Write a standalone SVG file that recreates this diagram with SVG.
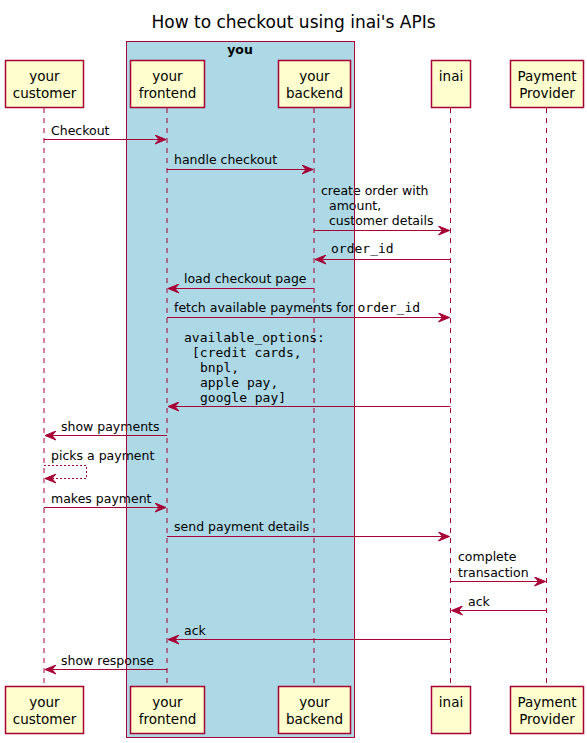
<svg xmlns="http://www.w3.org/2000/svg" width="587" height="743" viewBox="0 0 587 743">
<defs>
<style>
.title{font-family:"DejaVu Sans","Liberation Sans",sans-serif;font-size:17px;fill:#000}
.pbox{fill:#FEFECE;stroke:#A80036;stroke-width:1.5}
.ptxt{font-family:"DejaVu Sans","Liberation Sans",sans-serif;font-size:13.5px;fill:#000;text-anchor:middle}
.life{stroke:#A80036;stroke-width:1;stroke-dasharray:5,5;fill:none}
.msg{stroke:#A80036;stroke-width:1;fill:none}
.dot{stroke:#A80036;stroke-width:1;stroke-dasharray:2,2;fill:none}
.mtxt{font-family:"DejaVu Sans","Liberation Sans",sans-serif;font-size:12.5px;fill:#000}
.mono{font-family:"DejaVu Sans Mono","Liberation Mono",monospace;font-size:13px}
.boxlbl{font-family:"DejaVu Sans","Liberation Sans",sans-serif;font-size:12.5px;font-weight:bold;text-anchor:middle}
</style>
<marker id="ah" viewBox="0 0 12 10" refX="11.5" refY="5" markerWidth="12" markerHeight="10" markerUnits="userSpaceOnUse" orient="auto">
<path d="M0.5,0.5 L11.5,5 L0.5,9.5 L4.5,5 Z" fill="#A80036" stroke="#A80036" stroke-width="1"/>
</marker>
</defs>
<rect width="587" height="743" fill="#FFFFFF"/>
<text class="title" x="293.5" y="28" text-anchor="middle">How to checkout using inai's APIs</text>
<g id="box-you-fill">
<rect x="126.5" y="41.5" width="228" height="696" fill="#ADD8E6"/>
<text class="boxlbl" x="240" y="54">you</text>
</g>
<g id="your-customer">
<line class="life" x1="44" y1="108" x2="44" y2="686"/>
<rect class="pbox" x="5.5" y="60.5" width="78" height="47"/>
<text class="ptxt" x="44.5" y="81">your</text>
<text class="ptxt" x="44.5" y="98">customer</text>
<rect class="pbox" x="5.5" y="686.5" width="78" height="47"/>
<text class="ptxt" x="44.5" y="707">your</text>
<text class="ptxt" x="44.5" y="724">customer</text>
</g>
<g id="your-frontend">
<line class="life" x1="167" y1="108" x2="167" y2="686"/>
<rect class="pbox" x="130.5" y="60.5" width="74" height="47"/>
<text class="ptxt" x="167.5" y="81">your</text>
<text class="ptxt" x="167.5" y="98">frontend</text>
<rect class="pbox" x="130.5" y="686.5" width="74" height="47"/>
<text class="ptxt" x="167.5" y="707">your</text>
<text class="ptxt" x="167.5" y="724">frontend</text>
</g>
<g id="your-backend">
<line class="life" x1="314" y1="108" x2="314" y2="686"/>
<rect class="pbox" x="278.5" y="60.5" width="72" height="47"/>
<text class="ptxt" x="314.5" y="81">your</text>
<text class="ptxt" x="314.5" y="98">backend</text>
<rect class="pbox" x="278.5" y="686.5" width="72" height="47"/>
<text class="ptxt" x="314.5" y="707">your</text>
<text class="ptxt" x="314.5" y="724">backend</text>
</g>
<g id="inai">
<line class="life" x1="450.5" y1="108" x2="450.5" y2="686"/>
<rect class="pbox" x="431.5" y="60.5" width="39" height="47"/>
<text class="ptxt" x="451" y="81">inai</text>
<rect class="pbox" x="431.5" y="686.5" width="39" height="47"/>
<text class="ptxt" x="451" y="707">inai</text>
</g>
<g id="payment-provider">
<line class="life" x1="546.5" y1="108" x2="546.5" y2="686"/>
<rect class="pbox" x="510.5" y="60.5" width="73" height="47"/>
<text class="ptxt" x="547" y="81">Payment</text>
<text class="ptxt" x="547" y="98">Provider</text>
<rect class="pbox" x="510.5" y="686.5" width="73" height="47"/>
<text class="ptxt" x="547" y="707">Payment</text>
<text class="ptxt" x="547" y="724">Provider</text>
</g>
<g id="connectors">
<line class="msg" x1="44" y1="139.5" x2="166" y2="139.5" marker-end="url(#ah)"/>
<text class="mtxt" x="51" y="135">Checkout</text>
<line class="msg" x1="167" y1="169.5" x2="313" y2="169.5" marker-end="url(#ah)"/>
<text class="mtxt" x="174" y="164">handle checkout</text>
<line class="msg" x1="314" y1="230.5" x2="449.5" y2="230.5" marker-end="url(#ah)"/>
<text class="mtxt" x="321" y="195">create order with</text>
<text class="mtxt" x="329" y="210">amount,</text>
<text class="mtxt" x="329" y="225">customer details</text>
<line class="msg" x1="450.5" y1="259.5" x2="315" y2="259.5" marker-end="url(#ah)"/>
<text class="mtxt mono" x="331" y="253">order_id</text>
<line class="msg" x1="314" y1="288.5" x2="168" y2="288.5" marker-end="url(#ah)"/>
<text class="mtxt" x="184" y="283">load checkout page</text>
<line class="msg" x1="167" y1="317.5" x2="449.5" y2="317.5" marker-end="url(#ah)"/>
<text class="mtxt" x="174" y="312">fetch available payments for <tspan class="mono">order_id</tspan></text>
<line class="msg" x1="450.5" y1="406.5" x2="168" y2="406.5" marker-end="url(#ah)"/>
<text class="mtxt mono" x="184" y="342">available_options:</text>
<text class="mtxt mono" x="192" y="357">[credit cards,</text>
<text class="mtxt mono" x="200" y="372">bnpl,</text>
<text class="mtxt mono" x="200" y="387">apple pay,</text>
<text class="mtxt mono" x="200" y="402">google pay]</text>
<line class="msg" x1="167" y1="435.5" x2="45" y2="435.5" marker-end="url(#ah)"/>
<text class="mtxt" x="61" y="431">show payments</text>
<polyline class="dot" points="44,465.5 86.5,465.5 86.5,478.5 45,478.5" marker-end="url(#ah)"/>
<text class="mtxt" x="51" y="460">picks a payment</text>
<line class="msg" x1="44" y1="507.5" x2="166" y2="507.5" marker-end="url(#ah)"/>
<text class="mtxt" x="51" y="503">makes payment</text>
<line class="msg" x1="167" y1="536.5" x2="449.5" y2="536.5" marker-end="url(#ah)"/>
<text class="mtxt" x="174" y="531">send payment details</text>
<line class="msg" x1="450.5" y1="581.5" x2="545.5" y2="581.5" marker-end="url(#ah)"/>
<text class="mtxt" x="458" y="561">complete</text>
<text class="mtxt" x="458" y="577">transaction</text>
<line class="msg" x1="546.5" y1="610.5" x2="451.5" y2="610.5" marker-end="url(#ah)"/>
<text class="mtxt" x="468" y="606">ack</text>
<line class="msg" x1="450.5" y1="639.5" x2="168" y2="639.5" marker-end="url(#ah)"/>
<text class="mtxt" x="184" y="635">ack</text>
<line class="msg" x1="167" y1="669.5" x2="45" y2="669.5" marker-end="url(#ah)"/>
<text class="mtxt" x="61" y="665">show response</text>
</g>
<g id="box-you-border">
<rect x="126.5" y="41.5" width="228" height="696" fill="none" stroke="#A80036" stroke-width="1"/>
</g>
</svg>
